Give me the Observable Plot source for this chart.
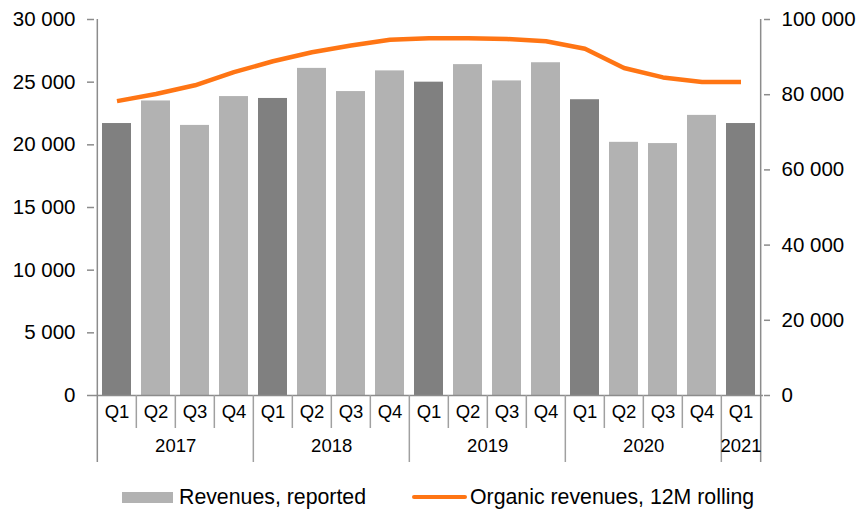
<!DOCTYPE html>
<html>
<head>
<meta charset="utf-8">
<script src="https://cdn.jsdelivr.net/npm/d3@7"></script>
<script src="https://cdn.jsdelivr.net/npm/@observablehq/plot@0.6"></script>
<style>
  html, body { margin: 0; padding: 0; background: #fff; }
  body { width: 859px; height: 510px; font-family: "Liberation Sans", Arial, sans-serif; position: relative; overflow: hidden; }
  #legend { position: absolute; left: 0; top: 484px; width: 859px; height: 26px; font-size: 21.3px; color: #000; }
  .item { display: flex; align-items: center; position: absolute; top: 0; height: 26px; }
  .sw-bar { width: 51px; height: 11px; background: #b2b2b2; margin-right: 6px; }
  .sw-line { width: 55px; height: 4px; background: #ff7514; border-radius: 2px; margin-right: 3px; }
</style>
</head>
<body>
<div id="chart"></div>
<div id="legend">
  <div class="item" style="left:122px"><div class="sw-bar"></div><span>Revenues, reported</span></div>
  <div class="item" style="left:412px"><div class="sw-line"></div><span>Organic revenues, 12M rolling</span></div>
</div>
<script>
// ---- data ----
const quarters = ["Q1","Q2","Q3","Q4","Q1","Q2","Q3","Q4","Q1","Q2","Q3","Q4","Q1","Q2","Q3","Q4","Q1"];
const years    = ["2017","2017","2017","2017","2018","2018","2018","2018","2019","2019","2019","2019","2020","2020","2020","2020","2021"];
const revenuesReported = [21700,23500,21550,23850,23700,26100,24250,25900,25000,26400,25100,26550,23600,20200,20100,22350,21700];
const organicRolling12M = [78300,80200,82500,86000,88900,91300,93100,94600,95000,95000,94800,94200,92200,87100,84600,83400,83400];
const leftTicks  = [0,5000,10000,15000,20000,25000,30000];
const rightTicks = [0,20000,40000,60000,80000,100000];
const leftMax = 30000, rightMax = 100000;

// ---- build table ----
const rows = quarters.map((q, i) => ({
  key: years[i] + " " + q, q, year: years[i],
  revenue: revenuesReported[i], organic: organicRolling12M[i]
}));
const ratio = leftMax / rightMax;
const fmt = d3.formatLocale({decimal: ".", thousands: "\u00a0", grouping: [3], currency: ["", ""]}).format(",.0f");

const W = 859, H = 475, mt = 19, mb = 80, ml = 94, mr = 96;
const step = (W - ml - mr) / rows.length;
const plotH = H - mt - mb;

// year label anchors
const yearGroups = d3.groups(rows, d => d.year);
const evenYears = [], oddYears = [];
for (const [y, rs] of yearGroups) {
  if (rs.length % 2 === 0) evenYears.push({year: y, key: rs[rs.length / 2 - 1].key});
  else oddYears.push({year: y, key: rs[(rs.length - 1) / 2].key});
}
const q1Rows = rows.filter(d => d.q === "Q1");
const otherRows = rows.filter(d => d.q !== "Q1");
const lastRow = [rows[rows.length - 1]];

const axisGray = "#8c8c8c";
const font = "Liberation Sans, Arial, sans-serif";

const chart = Plot.plot({
  width: W, height: H,
  marginTop: mt, marginBottom: mb, marginLeft: ml, marginRight: mr,
  style: {fontFamily: font, background: "#fff", color: "#000"},
  x: {domain: rows.map(d => d.key), paddingInner: 0.26, paddingOuter: 0.13, axis: null},
  y: {domain: [0, leftMax], axis: null},
  marks: [
    Plot.barY(rows, {x: "key", y: "revenue", fill: d => d.q === "Q1" ? "#808080" : "#b2b2b2"}),
    Plot.ruleY([0], {stroke: axisGray, strokeWidth: 1.5}),
    // quarter separators
    Plot.ruleX(otherRows, {x: "key", dx: -step / 2, insetTop: plotH, insetBottom: -33, stroke: "#a0a0a0", strokeWidth: 1.5}),
    // year separators + axis lines
    Plot.ruleX(q1Rows.slice(1), {x: "key", dx: -step / 2, insetTop: plotH, insetBottom: -67, stroke: "#a0a0a0", strokeWidth: 1.5}),
    Plot.ruleX(q1Rows.slice(0, 1), {x: "key", dx: -step / 2, insetBottom: -67, stroke: axisGray, strokeWidth: 1.5}),
    Plot.ruleX(lastRow, {x: "key", dx: step / 2, insetBottom: -67, stroke: axisGray, strokeWidth: 1.5}),
    Plot.axisY({anchor: "left", label: null, ticks: leftTicks, tickSize: 7, tickPadding: 12, tickFormat: fmt, fontSize: 20.5, stroke: axisGray, strokeWidth: 1.5, fill: "#000"}),
    Plot.axisY({anchor: "right", label: null, ticks: rightTicks.map(v => v * ratio), tickSize: 6, tickPadding: 12, tickFormat: d => fmt(Math.round(d / ratio)), fontSize: 20.5, stroke: axisGray, strokeWidth: 1.5, fill: "#000"}),
    Plot.line(rows, {x: "key", y: d => d.organic * ratio, stroke: "#ff7514", strokeWidth: 4.5, strokeLinecap: "butt", strokeLinejoin: "round"}),
    Plot.text(rows, {x: "key", text: "q", frameAnchor: "bottom", dy: 22, fontSize: 18.5, fill: "#000"}),
    Plot.text(evenYears, {x: "key", text: "year", dx: step / 2, frameAnchor: "bottom", dy: 56, fontSize: 18.5, fill: "#000"}),
    Plot.text(oddYears, {x: "key", text: "year", frameAnchor: "bottom", dy: 56, fontSize: 18.5, fill: "#000"})
  ]
});
document.getElementById("chart").appendChild(chart);
</script>
</body>
</html>
